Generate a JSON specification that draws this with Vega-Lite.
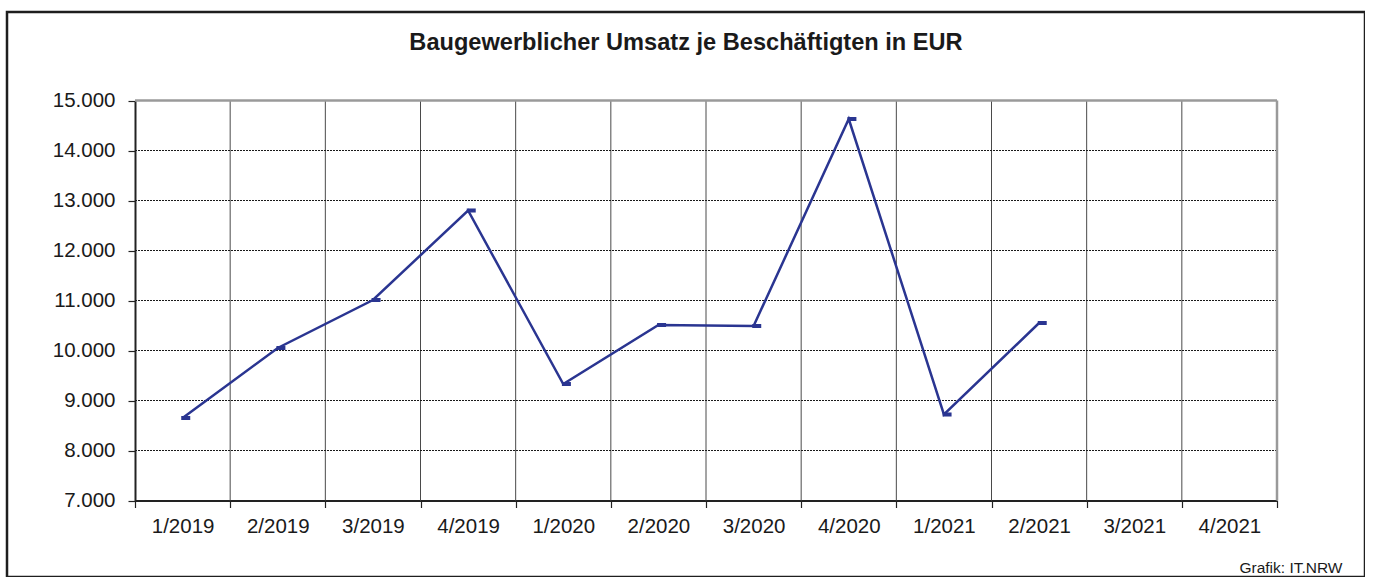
{
  "$schema": "https://vega.github.io/schema/vega-lite/v6.json",
  "width": 1358,
  "height": 565,
  "autosize": {"type": "none"},
  "padding": {"left": 7, "top": 12, "right": 0, "bottom": 0},
  "background": "white",
  "config": {
    "view": {"stroke": "#1e1e1e", "strokeWidth": 2.5},
    "font": "Liberation Sans",
    "axis": {"labelFont": "Liberation Sans", "titleFont": "Liberation Sans", "labelColor": "#1a1a1a", "titleColor": "#1a1a1a"}
  },
  "title": {
    "text": "Baugewerblicher Umsatz je Beschäftigten in EUR",
    "font": "Liberation Sans",
    "fontSize": 23.6,
    "fontWeight": "bold",
    "color": "#1a1a1a",
    "anchor": "middle",
    "baseline": "middle",
    "offset": 0,
    "dy": 55
  },
  "datasets": {
    "umsatz": [
      {"q": "1/2019", "value": 8650},
      {"q": "2/2019", "value": 10050},
      {"q": "3/2019", "value": 11010},
      {"q": "4/2019", "value": 12800},
      {"q": "1/2020", "value": 9330},
      {"q": "2/2020", "value": 10510},
      {"q": "3/2020", "value": 10490},
      {"q": "4/2020", "value": 14630},
      {"q": "1/2021", "value": 8720},
      {"q": "2/2021", "value": 10550}
    ],
    "vlines": [{"b": 1}, {"b": 2}, {"b": 3}, {"b": 4}, {"b": 5}, {"b": 6}, {"b": 7}, {"b": 8}, {"b": 9}, {"b": 10}, {"b": 11}],
    "hlines": [{"v": 8000}, {"v": 9000}, {"v": 10000}, {"v": 11000}, {"v": 12000}, {"v": 13000}, {"v": 14000}]
  },
  "layer": [
    {
      "layer": [
        {
          "data": {"name": "vlines"},
          "mark": {"type": "rule", "color": "#4a4a4a", "strokeWidth": 1},
          "encoding": {
            "x": {"field": "b", "type": "quantitative", "axis": null, "scale": {"type": "linear", "domain": [0, 12], "range": [128, 1270], "nice": false, "zero": false}},
            "y": {"datum": 7000, "type": "quantitative", "title": null, "scale": {"domain": [7000, 15000], "range": [488.5, 88.5], "nice": false, "zero": false}},
            "y2": {"datum": 15000}
          }
        },
        {
          "data": {"name": "hlines"},
          "mark": {"type": "rule", "color": "#1a1a1a", "strokeWidth": 1, "strokeDash": [2, 1]},
          "encoding": {
            "y": {"field": "v", "type": "quantitative", "title": null},
            "x": {"datum": 0, "type": "quantitative"},
            "x2": {"datum": 12}
          }
        },
        {
          "data": {"values": [{}]},
          "mark": {"type": "rule", "color": "#9a9a9a", "strokeWidth": 2.5},
          "encoding": {
            "y": {"datum": 15000, "type": "quantitative", "title": null},
            "x": {"datum": 0, "type": "quantitative"},
            "x2": {"datum": 12}
          }
        },
        {
          "data": {"values": [{}]},
          "mark": {"type": "rule", "color": "#9a9a9a", "strokeWidth": 2.5},
          "encoding": {
            "x": {"datum": 12, "type": "quantitative"},
            "y": {"datum": 7000, "type": "quantitative", "title": null},
            "y2": {"datum": 15000}
          }
        }
      ]
    },
    {
      "data": {"name": "umsatz"},
      "encoding": {
        "x": {
          "field": "q",
          "type": "ordinal",
          "sort": null,
          "bandPosition": 0.5,
          "title": "Grafik: IT.NRW",
          "scale": {"type": "band", "domain": ["1/2019", "2/2019", "3/2019", "4/2019", "1/2020", "2/2020", "3/2020", "4/2020", "1/2021", "2/2021", "3/2021", "4/2021"], "range": [128, 1270], "paddingInner": 0, "paddingOuter": 0},
          "axis": {
            "orient": "bottom",
            "offset": -76.5,
            "tickBand": "extent",
            "labelAngle": 0,
            "labelFontSize": 20.5,
            "labelPadding": 9,
            "tickSize": 7,
            "tickColor": "#222222",
            "tickWidth": 1.2,
            "domainColor": "#222222",
            "domainWidth": 2,
            "grid": false,
            "titleFontSize": 15.5,
            "titleFontWeight": "normal",
            "titleAlign": "right",
            "titleAnchor": "end",
            "titleBaseline": "middle",
            "titleX": 1335,
            "titleY": 66.5
          }
        },
        "y": {
          "field": "value",
          "type": "quantitative",
          "title": null,
          "scale": {"domain": [7000, 15000], "range": [488.5, 88.5], "nice": false, "zero": false},
          "axis": {
            "orient": "left",
            "offset": -128,
            "values": [7000, 8000, 9000, 10000, 11000, 12000, 13000, 14000, 15000],
            "labelExpr": "replace(format(datum.value, ','), ',', '.')",
            "labelFontSize": 20.5,
            "labelPadding": 13,
            "tickSize": 7,
            "tickColor": "#222222",
            "tickWidth": 1.2,
            "domainColor": "#222222",
            "domainWidth": 2,
            "grid": false
          }
        }
      },
      "layer": [
        {"mark": {"type": "line", "color": "#2a3591", "strokeWidth": 2.5}},
        {"mark": {"type": "point", "shape": "M-0.3,-0.45L1.7,-0.45L1.7,0.45L-0.3,0.45Z", "size": 81, "filled": true, "color": "#2a3591", "opacity": 1}}
      ]
    }
  ],
  "resolve": {"scale": {"x": "independent"}}
}
